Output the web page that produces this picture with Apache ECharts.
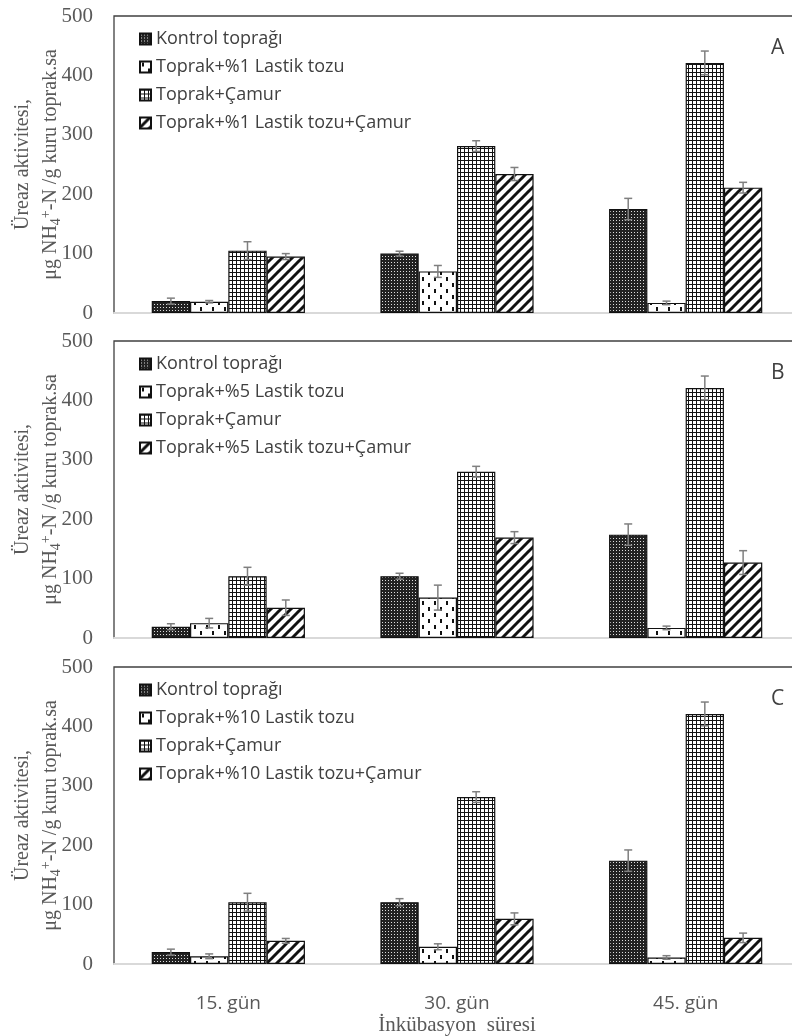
<!DOCTYPE html>
<html>
<head>
<meta charset="utf-8">
<script src="https://cdn.jsdelivr.net/npm/echarts@6/dist/echarts.min.js"></script>
<style>
  html, body { margin: 0; padding: 0; background: #fff; overflow: hidden; }
  #chart { width: 800px; height: 1036px; }
</style>
</head>
<body>
<div id="chart"></div>
<script>
// days of incubation
const categories = ['15. gün', '30. gün', '45. gün'];
const panelLabels = ['A', 'B', 'C'];
const yTicks = [0, 100, 200, 300, 400, 500];

// series names per panel (A: %1, B: %5, C: %10)
const namesA = ['Kontrol toprağı', 'Toprak+%1 Lastik tozu', 'Toprak+Çamur', 'Toprak+%1 Lastik tozu+Çamur'];
const namesB = ['Kontrol toprağı', 'Toprak+%5 Lastik tozu', 'Toprak+Çamur', 'Toprak+%5 Lastik tozu+Çamur'];
const namesC = ['Kontrol toprağı', 'Toprak+%10 Lastik tozu', 'Toprak+Çamur', 'Toprak+%10 Lastik tozu+Çamur'];

// panel A
const kontrolA = [20, 100, 175];
const kontrolErrA = [5, 4, 18];
const lastikA = [19, 70, 17];
const lastikErrA = [2, 10, 3];
const camurA = [105, 281, 421];
const camurErrA = [15, 9, 20];
const lastikCamurA = [95, 234, 211];
const lastikCamurErrA = [5, 11, 9];

// panel B
const kontrolB = [19, 104, 174];
const kontrolErrB = [5, 5, 18];
const lastikB = [25, 68, 17];
const lastikErrB = [8, 21, 3];
const camurB = [104, 280, 421];
const camurErrB = [15, 9, 20];
const lastikCamurB = [51, 169, 127];
const lastikCamurErrB = [13, 10, 20];

// panel C
const kontrolC = [20, 104, 174];
const kontrolErrC = [5, 6, 18];
const lastikC = [13, 29, 11];
const lastikErrC = [4, 5, 3];
const camurC = [104, 281, 421];
const camurErrC = [15, 9, 20];
const lastikCamurC = [39, 76, 44];
const lastikCamurErrC = [4, 10, 8];

const panels = [
  { names: namesA, values: [kontrolA, lastikA, camurA, lastikCamurA], errors: [kontrolErrA, lastikErrA, camurErrA, lastikCamurErrA] },
  { names: namesB, values: [kontrolB, lastikB, camurB, lastikCamurB], errors: [kontrolErrB, lastikErrB, camurErrB, lastikCamurErrB] },
  { names: namesC, values: [kontrolC, lastikC, camurC, lastikCamurC], errors: [kontrolErrC, lastikErrC, camurErrC, lastikCamurErrC] }
];

// ---- hatch patterns (excel style) ----
function makePattern(w, h, draw) {
  const c = document.createElement('canvas');
  c.width = w;
  c.height = h;
  const ctx = c.getContext('2d');
  ctx.fillStyle = '#fff';
  ctx.fillRect(0, 0, w, h);
  draw(ctx);
  return { image: c, repeat: 'repeat' };
}

const patterns = [
  // dark dotted grid
  makePattern(3, 3, ctx => {
    ctx.fillStyle = '#222';
    ctx.fillRect(0, 0, 3, 3);
    ctx.fillStyle = '#ddd';
    ctx.fillRect(1, 1, 1, 1);
  }),
  // sparse vertical dashes
  makePattern(12, 12, ctx => {
    ctx.fillStyle = '#111';
    ctx.fillRect(2, 1, 2, 4);
    ctx.fillRect(8, 7, 2, 4);
  }),
  // small grid
  makePattern(4, 4, ctx => {
    ctx.fillStyle = '#111';
    ctx.fillRect(0, 0, 4, 1);
    ctx.fillRect(0, 0, 1, 4);
  }),
  // wide diagonal stripes
  makePattern(10, 10, ctx => {
    ctx.strokeStyle = '#111';
    ctx.lineWidth = 3;
    for (let k = -1; k <= 1; k++) {
      ctx.beginPath();
      ctx.moveTo(k * 10 - 1, 11);
      ctx.lineTo(k * 10 + 11, -1);
      ctx.stroke();
    }
  })
];

const gridTops = [16, 341, 667];
const gridHeight = 297;
const serif = '"Liberation Serif", "DejaVu Serif", serif';
const sans = '"Open Sans", "Noto Sans", sans-serif';
const gap = 0.33;

function errorRenderer(slot) {
  return function (params, api) {
    const cat = api.value(0);
    const val = api.value(1);
    const err = api.value(2);
    const catW = api.size([1, 0])[0];
    const barW = catW * (1 - gap) / 4;
    const x = api.coord([cat, 0])[0] + (slot - 1.5) * barW;
    const top = api.coord([cat, val + err])[1];
    const bot = api.coord([cat, val - err])[1];
    const cap = 4;
    const style = { stroke: '#7f7f7f', lineWidth: 1.5 };
    return {
      type: 'group',
      children: [
        { type: 'line', shape: { x1: x, y1: top, x2: x, y2: bot }, style: style },
        { type: 'line', shape: { x1: x - cap, y1: top, x2: x + cap, y2: top }, style: style },
        { type: 'line', shape: { x1: x - cap, y1: bot, x2: x + cap, y2: bot }, style: style }
      ]
    };
  };
}

const grid = [], xAxis = [], yAxis = [], legend = [], title = [], series = [];

panels.forEach((p, i) => {
  grid.push({
    left: 114,
    width: 686,
    top: gridTops[i],
    height: gridHeight,
    show: true,
    borderColor: '#404040',
    borderWidth: 1.3,
    containLabel: false,
    outerBoundsMode: 'none'
  });
  xAxis.push({
    type: 'category',
    gridIndex: i,
    data: categories,
    axisLine: { lineStyle: { color: '#d9d9d9', width: 2 } },
    axisTick: { show: false },
    axisLabel: {
      show: i === 2,
      margin: 30,
      fontFamily: sans,
      fontSize: 19,
      color: '#595959'
    },
    name: i === 2 ? 'İnkübasyon  süresi' : '',
    nameLocation: 'middle',
    nameGap: 51,
    nameMoveOverlap: false,
    nameTextStyle: { fontFamily: serif, fontSize: 21, color: '#595959' }
  });
  yAxis.push({
    type: 'value',
    gridIndex: i,
    min: 0,
    max: 500,
    interval: 100,
    splitLine: { show: false },
    axisTick: { show: false },
    axisLine: { show: false },
    axisLabel: {
      margin: 21,
      fontFamily: serif,
      fontSize: 21,
      color: '#595959',
      formatter: v => (yTicks.indexOf(v) >= 0 ? String(v) : '')
    },
    name: '{a|Üreaz aktivitesi,}\n{a|μg NH}{sub|4}{sup|+}{a|-N /g kuru toprak.sa}',
    nameLocation: 'middle',
    nameRotate: 90,
    nameGap: 49,
    nameMoveOverlap: false,
    nameTextStyle: {
      color: '#595959',
      rich: {
        a: { fontFamily: serif, fontSize: 20, color: '#595959', lineHeight: 28 },
        sub: { fontFamily: serif, fontSize: 14, color: '#595959', lineHeight: 18, padding: [10, 0, 0, 0] },
        sup: { fontFamily: serif, fontSize: 14, color: '#595959', lineHeight: 18, padding: [0, 0, 10, 0] }
      }
    }
  });
  legend.push({
    data: p.names,
    orient: 'vertical',
    left: 134,
    top: gridTops[i] + 9,
    itemWidth: 11,
    itemHeight: 11,
    itemGap: 10,
    icon: 'rect',
    selectedMode: false,
    textStyle: { fontFamily: sans, fontSize: 18, color: '#404040', lineHeight: 18 }
  });
  title.push({
    text: panelLabels[i],
    left: 766,
    top: gridTops[i] + 17,
    textStyle: { fontFamily: sans, fontSize: 21, fontWeight: 'normal', color: '#404040' }
  });

  p.values.forEach((vals, s) => {
    series.push({
      name: p.names[s],
      type: 'bar',
      xAxisIndex: i,
      yAxisIndex: i,
      data: vals,
      barGap: '0%',
      barCategoryGap: (gap * 100) + '%',
      itemStyle: { color: patterns[s], borderColor: '#111', borderWidth: 1.2 },
      emphasis: { disabled: true }
    });
  });
  p.values.forEach((vals, s) => {
    series.push({
      type: 'custom',
      xAxisIndex: i,
      yAxisIndex: i,
      z: 5,
      renderItem: errorRenderer(s),
      encode: { x: 0, y: 1 },
      data: vals.map((v, k) => [k, v, p.errors[s][k]])
    });
  });
});

const chart = echarts.init(document.getElementById('chart'), null, { renderer: 'canvas' });
chart.setOption({
  animation: false,
  backgroundColor: '#fff',
  title: title,
  legend: legend,
  grid: grid,
  xAxis: xAxis,
  yAxis: yAxis,
  series: series
});
</script>
</body>
</html>
